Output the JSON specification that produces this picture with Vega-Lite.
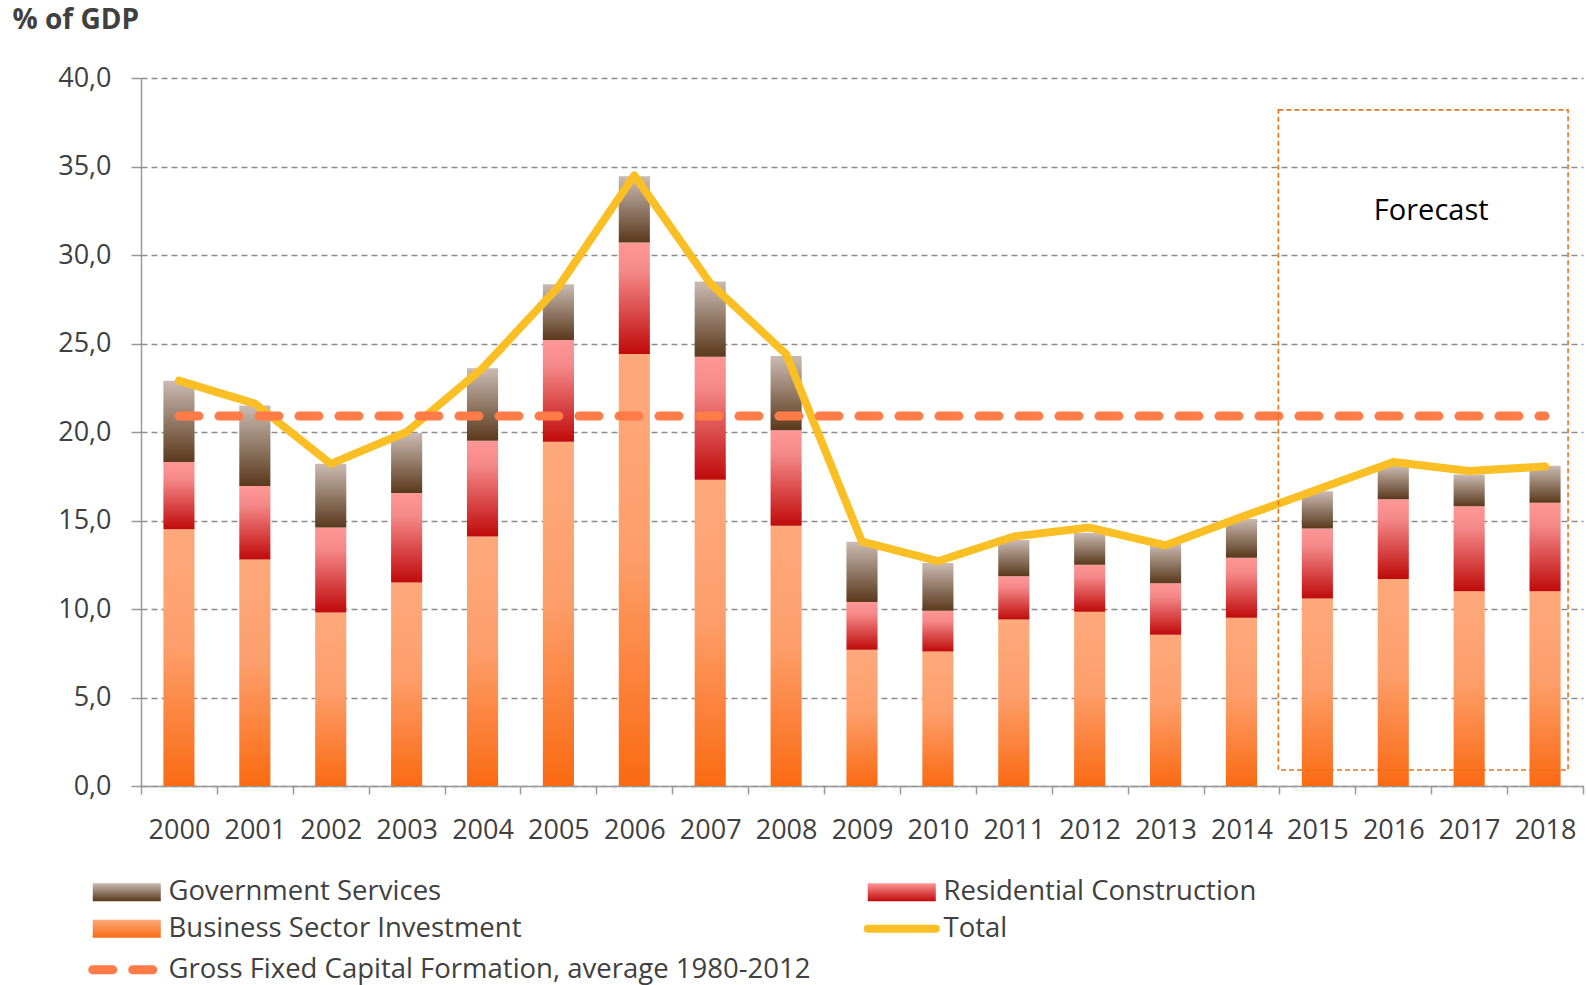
{
  "$schema": "https://vega.github.io/schema/vega-lite/v6.json",
  "width": 1442,
  "height": 708,
  "autosize": {"type": "none"},
  "padding": {"left": 141, "top": 78, "right": 3, "bottom": 199},
  "background": "white",
  "datasets": {
    "bars": [
      {"year": "2000", "series": "Business Sector Investment", "rank": 1, "value": 14.5},
      {"year": "2000", "series": "Residential Construction", "rank": 2, "value": 3.8},
      {"year": "2000", "series": "Government Services", "rank": 3, "value": 4.6},
      {"year": "2001", "series": "Business Sector Investment", "rank": 1, "value": 12.8},
      {"year": "2001", "series": "Residential Construction", "rank": 2, "value": 4.15},
      {"year": "2001", "series": "Government Services", "rank": 3, "value": 4.55},
      {"year": "2002", "series": "Business Sector Investment", "rank": 1, "value": 9.8},
      {"year": "2002", "series": "Residential Construction", "rank": 2, "value": 4.8},
      {"year": "2002", "series": "Government Services", "rank": 3, "value": 3.6},
      {"year": "2003", "series": "Business Sector Investment", "rank": 1, "value": 11.5},
      {"year": "2003", "series": "Residential Construction", "rank": 2, "value": 5.05},
      {"year": "2003", "series": "Government Services", "rank": 3, "value": 3.4},
      {"year": "2004", "series": "Business Sector Investment", "rank": 1, "value": 14.1},
      {"year": "2004", "series": "Residential Construction", "rank": 2, "value": 5.4},
      {"year": "2004", "series": "Government Services", "rank": 3, "value": 4.1},
      {"year": "2005", "series": "Business Sector Investment", "rank": 1, "value": 19.45},
      {"year": "2005", "series": "Residential Construction", "rank": 2, "value": 5.75},
      {"year": "2005", "series": "Government Services", "rank": 3, "value": 3.15},
      {"year": "2006", "series": "Business Sector Investment", "rank": 1, "value": 24.4},
      {"year": "2006", "series": "Residential Construction", "rank": 2, "value": 6.3},
      {"year": "2006", "series": "Government Services", "rank": 3, "value": 3.75},
      {"year": "2007", "series": "Business Sector Investment", "rank": 1, "value": 17.3},
      {"year": "2007", "series": "Residential Construction", "rank": 2, "value": 6.95},
      {"year": "2007", "series": "Government Services", "rank": 3, "value": 4.25},
      {"year": "2008", "series": "Business Sector Investment", "rank": 1, "value": 14.7},
      {"year": "2008", "series": "Residential Construction", "rank": 2, "value": 5.4},
      {"year": "2008", "series": "Government Services", "rank": 3, "value": 4.2},
      {"year": "2009", "series": "Business Sector Investment", "rank": 1, "value": 7.7},
      {"year": "2009", "series": "Residential Construction", "rank": 2, "value": 2.7},
      {"year": "2009", "series": "Government Services", "rank": 3, "value": 3.4},
      {"year": "2010", "series": "Business Sector Investment", "rank": 1, "value": 7.6},
      {"year": "2010", "series": "Residential Construction", "rank": 2, "value": 2.3},
      {"year": "2010", "series": "Government Services", "rank": 3, "value": 2.7},
      {"year": "2011", "series": "Business Sector Investment", "rank": 1, "value": 9.4},
      {"year": "2011", "series": "Residential Construction", "rank": 2, "value": 2.45},
      {"year": "2011", "series": "Government Services", "rank": 3, "value": 2.05},
      {"year": "2012", "series": "Business Sector Investment", "rank": 1, "value": 9.85},
      {"year": "2012", "series": "Residential Construction", "rank": 2, "value": 2.65},
      {"year": "2012", "series": "Government Services", "rank": 3, "value": 1.8},
      {"year": "2013", "series": "Business Sector Investment", "rank": 1, "value": 8.55},
      {"year": "2013", "series": "Residential Construction", "rank": 2, "value": 2.9},
      {"year": "2013", "series": "Government Services", "rank": 3, "value": 2.25},
      {"year": "2014", "series": "Business Sector Investment", "rank": 1, "value": 9.5},
      {"year": "2014", "series": "Residential Construction", "rank": 2, "value": 3.4},
      {"year": "2014", "series": "Government Services", "rank": 3, "value": 2.2},
      {"year": "2015", "series": "Business Sector Investment", "rank": 1, "value": 10.6},
      {"year": "2015", "series": "Residential Construction", "rank": 2, "value": 3.95},
      {"year": "2015", "series": "Government Services", "rank": 3, "value": 2.1},
      {"year": "2016", "series": "Business Sector Investment", "rank": 1, "value": 11.7},
      {"year": "2016", "series": "Residential Construction", "rank": 2, "value": 4.5},
      {"year": "2016", "series": "Government Services", "rank": 3, "value": 1.9},
      {"year": "2017", "series": "Business Sector Investment", "rank": 1, "value": 11.0},
      {"year": "2017", "series": "Residential Construction", "rank": 2, "value": 4.8},
      {"year": "2017", "series": "Government Services", "rank": 3, "value": 1.8},
      {"year": "2018", "series": "Business Sector Investment", "rank": 1, "value": 11.0},
      {"year": "2018", "series": "Residential Construction", "rank": 2, "value": 5.0},
      {"year": "2018", "series": "Government Services", "rank": 3, "value": 2.1}
    ],
    "lines": [
      {"year": "2000", "total": 22.9, "avg": 20.9},
      {"year": "2001", "total": 21.6, "avg": 20.9},
      {"year": "2002", "total": 18.2, "avg": 20.9},
      {"year": "2003", "total": 20.0, "avg": 20.9},
      {"year": "2004", "total": 23.6, "avg": 20.9},
      {"year": "2005", "total": 28.2, "avg": 20.9},
      {"year": "2006", "total": 34.5, "avg": 20.9},
      {"year": "2007", "total": 28.4, "avg": 20.9},
      {"year": "2008", "total": 24.4, "avg": 20.9},
      {"year": "2009", "total": 13.8, "avg": 20.9},
      {"year": "2010", "total": 12.7, "avg": 20.9},
      {"year": "2011", "total": 14.1, "avg": 20.9},
      {"year": "2012", "total": 14.6, "avg": 20.9},
      {"year": "2013", "total": 13.6, "avg": 20.9},
      {"year": "2014", "total": 15.2, "avg": 20.9},
      {"year": "2015", "total": 16.75, "avg": 20.9},
      {"year": "2016", "total": 18.3, "avg": 20.9},
      {"year": "2017", "total": 17.8, "avg": 20.9},
      {"year": "2018", "total": 18.05, "avg": 20.9}
    ],
    "box": [{"from": "2015", "to": "2018", "lo": 0.9, "hi": 38.2}],
    "note": [{"year": "2017", "y": 32.5, "label": "Forecast"}]
  },
  "layer": [
    {
      "data": {"name": "bars"},
      "mark": {"type": "bar", "width": {"band": 0.41}},
      "encoding": {
        "x": {"field": "year", "type": "ordinal", "title": null, "scale": {"paddingInner": 0, "paddingOuter": 0}},
        "y": {"field": "value", "type": "quantitative", "stack": "zero", "title": "% of GDP", "scale": {"domain": [0, 40], "nice": false}},
        "order": {"field": "rank", "type": "quantitative"},
        "fill": {
          "condition": [
            {"test": "datum.series === 'Government Services'", "value": {"gradient": "linear", "x1": 0, "y1": 0, "x2": 0, "y2": 1, "stops": [{"offset": 0, "color": "#CABBB2"}, {"offset": 1, "color": "#5A391C"}]}},
            {"test": "datum.series === 'Residential Construction'", "value": {"gradient": "linear", "x1": 0, "y1": 0, "x2": 0, "y2": 1, "stops": [{"offset": 0, "color": "#FF9797"}, {"offset": 0.25, "color": "#F58989"}, {"offset": 1, "color": "#C00A0A"}]}}
          ],
          "value": {"gradient": "linear", "x1": 0, "y1": 0, "x2": 0, "y2": 1, "stops": [{"offset": 0, "color": "#FEA97B"}, {"offset": 0.45, "color": "#FD9F6C"}, {"offset": 1, "color": "#FA6A12"}]}
        }
      }
    },
    {
      "data": {"name": "lines"},
      "mark": {"type": "line", "strokeWidth": 8, "strokeJoin": "round", "strokeCap": "round"},
      "encoding": {
        "x": {"field": "year", "type": "ordinal", "title": null},
        "y": {"field": "total", "type": "quantitative", "title": "% of GDP"},
        "color": {
          "datum": "Total",
          "type": "nominal",
          "scale": {
            "domain": ["Government Services", "Business Sector Investment", "Gross Fixed Capital Formation, average 1980-2012", "Residential Construction", "Total"],
            "range": ["#8B6E5A", "#FB8A4A", "#FF7B47", "#E04848", "#FBBF26"]
          },
          "legend": {
            "title": null,
            "orient": "none",
            "legendX": -53,
            "legendY": 800,
            "columns": 2,
            "columnPadding": 40,
            "rowPadding": 6,
            "symbolSize": 324,
            "labelOffset": 53,
            "labelFontSize": 27.5,
            "labelFont": "Open Sans",
            "labelColor": "#404040",
            "labelLimit": 900,
            "padding": 0,
            "encode": {
              "symbols": {
                "update": {
                  "shape": {"signal": "(datum.value === 'Total' || datum.value === 'Gross Fixed Capital Formation, average 1980-2012') ? 'M-1,0H6.56' : 'M-1,-1H6.56V1H-1Z'"},
                  "size": {"value": 324},
                  "fill": {"signal": "datum.value === 'Government Services' ? {gradient: 'linear', x1: 0, y1: 0, x2: 0, y2: 1, stops: [{offset: 0, color: '#CABBB2'}, {offset: 1, color: '#5A391C'}]} : datum.value === 'Residential Construction' ? {gradient: 'linear', x1: 0, y1: 0, x2: 0, y2: 1, stops: [{offset: 0, color: '#FF9797'}, {offset: 1, color: '#C00A0A'}]} : datum.value === 'Business Sector Investment' ? {gradient: 'linear', x1: 0, y1: 0, x2: 0, y2: 1, stops: [{offset: 0, color: '#FDA97B'}, {offset: 1, color: '#FA6A12'}]} : 'transparent'"},
                  "stroke": {"signal": "datum.value === 'Total' ? '#FBBF26' : datum.value === 'Gross Fixed Capital Formation, average 1980-2012' ? '#FF7B47' : 'transparent'"},
                  "strokeWidth": {"signal": "datum.value === 'Total' ? 8 : datum.value === 'Gross Fixed Capital Formation, average 1980-2012' ? 9 : 0"},
                  "strokeDash": {"signal": "datum.value === 'Gross Fixed Capital Formation, average 1980-2012' ? [20, 20] : [1, 0]"},
                  "strokeCap": {"value": "round"},
                  "opacity": {"value": 1}
                }
              }
            }
          }
        }
      }
    },
    {
      "data": {"name": "lines"},
      "mark": {"type": "line", "strokeWidth": 9, "strokeDash": [20, 20], "strokeCap": "round"},
      "encoding": {
        "x": {"field": "year", "type": "ordinal", "title": null},
        "y": {"field": "avg", "type": "quantitative", "title": "% of GDP"},
        "color": {"datum": "Gross Fixed Capital Formation, average 1980-2012", "type": "nominal"}
      }
    },
    {
      "data": {"name": "box"},
      "mark": {"type": "rect", "fill": null, "stroke": "#E8731A", "strokeWidth": 1.6, "strokeDash": [5, 3], "xOffset": -39, "x2Offset": 23},
      "encoding": {
        "x": {"field": "from", "type": "ordinal", "title": null},
        "x2": {"field": "to"},
        "y": {"field": "lo", "type": "quantitative", "title": "% of GDP"},
        "y2": {"field": "hi"}
      }
    },
    {
      "data": {"name": "note"},
      "mark": {"type": "text", "fontSize": 29, "font": "Open Sans", "color": "#000000", "align": "center", "baseline": "middle"},
      "encoding": {
        "x": {"field": "year", "type": "ordinal", "title": null, "bandPosition": 0},
        "y": {"field": "y", "type": "quantitative", "title": "% of GDP"},
        "text": {"field": "label"}
      }
    }
  ],
  "config": {
    "view": {"stroke": null},
    "axisY": {
      "tickCount": 8,
      "grid": true,
      "gridColor": "#8C8C8C",
      "gridDash": [6, 4],
      "gridWidth": 1.5,
      "domainColor": "#999999",
      "domainWidth": 1.5,
      "tickColor": "#999999",
      "tickWidth": 1.5,
      "tickSize": 10,
      "labelPadding": 20,
      "labelFontSize": 27,
      "labelFont": "Open Sans",
      "labelColor": "#404040",
      "labelExpr": "replace(format(datum.value, '.1f'), '.', ',')",
      "titleAngle": 0,
      "titleAlign": "left",
      "titleBaseline": "middle",
      "titleX": -129,
      "titleY": -58,
      "titleFontSize": 28,
      "titleFont": "Open Sans",
      "titleFontWeight": "bold",
      "titleColor": "#404040"
    },
    "axisX": {
      "grid": false,
      "labelAngle": 0,
      "tickBand": "extent",
      "domainColor": "#999999",
      "domainWidth": 1.5,
      "tickColor": "#999999",
      "tickWidth": 1.5,
      "tickSize": 8,
      "labelPadding": 23,
      "labelFontSize": 27,
      "labelFont": "Open Sans",
      "labelColor": "#404040"
    }
  }
}
